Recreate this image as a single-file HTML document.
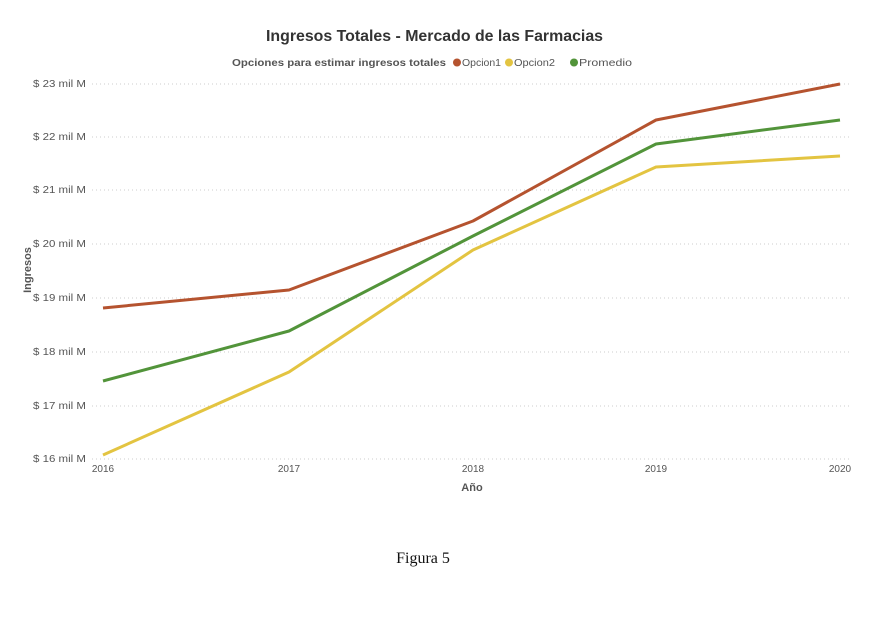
<!DOCTYPE html>
<html><head><meta charset="utf-8"><style>
body{margin:0;background:#fff;width:873px;height:612px;overflow:hidden;font-family:"Liberation Sans",sans-serif}
</style></head><body>
<svg width="873" height="612" xmlns="http://www.w3.org/2000/svg" font-family="Liberation Sans, sans-serif">
<text x="266" y="41" textLength="337" lengthAdjust="spacingAndGlyphs" font-size="16" font-weight="bold" fill="#333">Ingresos Totales - Mercado de las Farmacias</text>
<text x="232" y="66" textLength="214" lengthAdjust="spacingAndGlyphs" font-size="10" font-weight="bold" fill="#555">Opciones para estimar ingresos totales</text>
<circle cx="457" cy="62.5" r="4" fill="#b5532f"/><text x="462" y="66" textLength="39" lengthAdjust="spacingAndGlyphs" font-size="10" fill="#555">Opcion1</text>
<circle cx="509" cy="62.5" r="4" fill="#e3c441"/><text x="514" y="66" textLength="41" lengthAdjust="spacingAndGlyphs" font-size="10" fill="#555">Opcion2</text>
<circle cx="574" cy="62.5" r="4" fill="#52943a"/><text x="579" y="66" textLength="53" lengthAdjust="spacingAndGlyphs" font-size="10" fill="#555">Promedio</text>
<g stroke="#ccc" stroke-dasharray="1,3" stroke-width="1">
<line x1="92" x2="850" y1="84" y2="84"/><line x1="92" x2="850" y1="137" y2="137"/>
<line x1="92" x2="850" y1="190" y2="190"/><line x1="92" x2="850" y1="244" y2="244"/>
<line x1="92" x2="850" y1="298" y2="298"/><line x1="92" x2="850" y1="352" y2="352"/>
<line x1="92" x2="850" y1="406" y2="406"/><line x1="92" x2="850" y1="459" y2="459"/>
</g>
<g font-size="10" fill="#555">
<text x="33" y="87" textLength="53" lengthAdjust="spacingAndGlyphs">$ 23 mil M</text><text x="33" y="140" textLength="53" lengthAdjust="spacingAndGlyphs">$ 22 mil M</text>
<text x="33" y="193" textLength="53" lengthAdjust="spacingAndGlyphs">$ 21 mil M</text><text x="33" y="247" textLength="53" lengthAdjust="spacingAndGlyphs">$ 20 mil M</text>
<text x="33" y="301" textLength="53" lengthAdjust="spacingAndGlyphs">$ 19 mil M</text><text x="33" y="355" textLength="53" lengthAdjust="spacingAndGlyphs">$ 18 mil M</text>
<text x="33" y="409" textLength="53" lengthAdjust="spacingAndGlyphs">$ 17 mil M</text><text x="33" y="462" textLength="53" lengthAdjust="spacingAndGlyphs">$ 16 mil M</text>
</g>
<g font-size="10" fill="#555" text-anchor="middle">
<text x="103" y="472">2016</text><text x="289" y="472">2017</text><text x="473" y="472">2018</text>
<text x="656" y="472">2019</text><text x="840" y="472">2020</text>
</g>
<text x="472" y="491" text-anchor="middle" font-size="11" font-weight="bold" fill="#555">Año</text>
<text transform="translate(31,270) rotate(-90)" text-anchor="middle" font-size="11" font-weight="bold" fill="#555">Ingresos</text>
<g fill="none" stroke-width="3" stroke-linejoin="round">
<polyline stroke="#b5532f" points="103,308 289,290 473,221 656,120 840,84"/>
<polyline stroke="#e3c441" points="103,455 289,372 473,250 656,167 840,156"/>
<polyline stroke="#52943a" points="103,381 289,331 473,236 656,144 840,120"/>
</g>
<text x="423" y="563" text-anchor="middle" font-size="16" font-family="Liberation Serif, serif" fill="#111">Figura 5</text>
</svg>
</body></html>
